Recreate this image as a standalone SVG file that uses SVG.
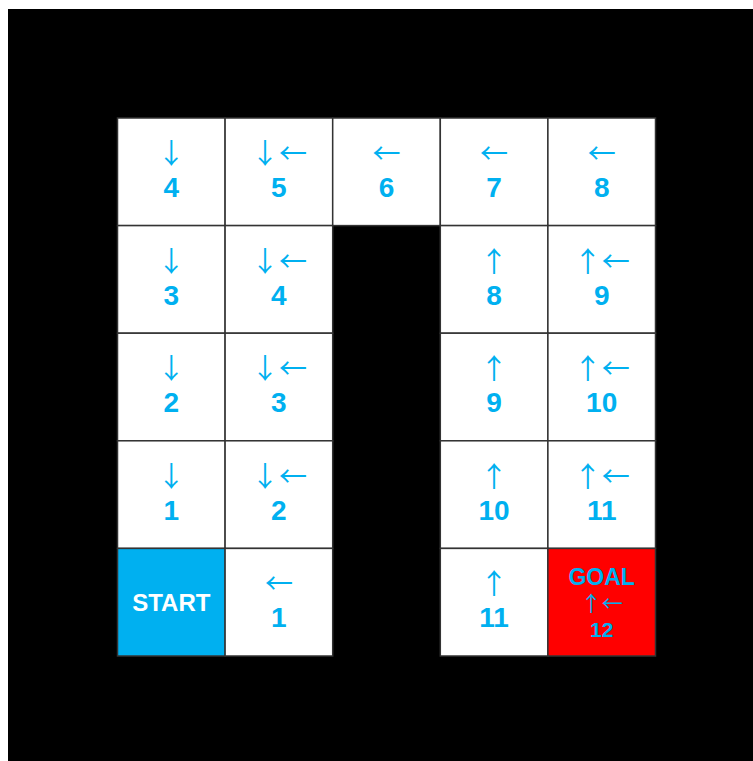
<svg xmlns="http://www.w3.org/2000/svg" width="753" height="761" viewBox="0 0 753 761">
<style>
.cell{fill:#fff;stroke:#333;stroke-width:1.5}
.arr{font-family:"Noto Sans CJK JP","Noto Sans",sans-serif;font-size:28px;fill:#00b0f0;text-anchor:middle}
.num{font-family:"Liberation Sans","Noto Sans CJK JP",sans-serif;font-weight:bold;font-size:28px;fill:#00b0f0;text-anchor:middle}
</style>
<rect x="0" y="0" width="753" height="761" fill="#fff"/>
<rect x="8" y="9" width="745" height="752" fill="#000"/>
<g id="r0c0"><rect class="cell" x="117.5" y="118" width="107.6" height="107.6"/><text class="arr" x="171.3" y="164">↓</text><text class="num" x="171.3" y="197">4</text></g>
<g id="r0c1"><rect class="cell" x="225.1" y="118" width="107.6" height="107.6"/><text class="arr" x="278.9" y="164">↓←</text><text class="num" x="278.9" y="197">5</text></g>
<g id="r0c2"><rect class="cell" x="332.7" y="118" width="107.6" height="107.6"/><text class="arr" x="386.5" y="164">←</text><text class="num" x="386.5" y="197">6</text></g>
<g id="r0c3"><rect class="cell" x="440.3" y="118" width="107.6" height="107.6"/><text class="arr" x="494.1" y="164">←</text><text class="num" x="494.1" y="197">7</text></g>
<g id="r0c4"><rect class="cell" x="547.9" y="118" width="107.6" height="107.6"/><text class="arr" x="601.7" y="164">←</text><text class="num" x="601.7" y="197">8</text></g>

<g id="r1c0"><rect class="cell" x="117.5" y="225.6" width="107.6" height="107.6"/><text class="arr" x="171.3" y="271.6">↓</text><text class="num" x="171.3" y="304.6">3</text></g>
<g id="r1c1"><rect class="cell" x="225.1" y="225.6" width="107.6" height="107.6"/><text class="arr" x="278.9" y="271.6">↓←</text><text class="num" x="278.9" y="304.6">4</text></g>
<g id="r1c3"><rect class="cell" x="440.3" y="225.6" width="107.6" height="107.6"/><text class="arr" x="494.1" y="271.6">↑</text><text class="num" x="494.1" y="304.6">8</text></g>
<g id="r1c4"><rect class="cell" x="547.9" y="225.6" width="107.6" height="107.6"/><text class="arr" x="601.7" y="271.6">↑←</text><text class="num" x="601.7" y="304.6">9</text></g>

<g id="r2c0"><rect class="cell" x="117.5" y="333.2" width="107.6" height="107.6"/><text class="arr" x="171.3" y="379.2">↓</text><text class="num" x="171.3" y="412.2">2</text></g>
<g id="r2c1"><rect class="cell" x="225.1" y="333.2" width="107.6" height="107.6"/><text class="arr" x="278.9" y="379.2">↓←</text><text class="num" x="278.9" y="412.2">3</text></g>
<g id="r2c3"><rect class="cell" x="440.3" y="333.2" width="107.6" height="107.6"/><text class="arr" x="494.1" y="379.2">↑</text><text class="num" x="494.1" y="412.2">9</text></g>
<g id="r2c4"><rect class="cell" x="547.9" y="333.2" width="107.6" height="107.6"/><text class="arr" x="601.7" y="379.2">↑←</text><text class="num" x="601.7" y="412.2">10</text></g>

<g id="r3c0"><rect class="cell" x="117.5" y="440.8" width="107.6" height="107.6"/><text class="arr" x="171.3" y="486.8">↓</text><text class="num" x="171.3" y="519.8">1</text></g>
<g id="r3c1"><rect class="cell" x="225.1" y="440.8" width="107.6" height="107.6"/><text class="arr" x="278.9" y="486.8">↓←</text><text class="num" x="278.9" y="519.8">2</text></g>
<g id="r3c3"><rect class="cell" x="440.3" y="440.8" width="107.6" height="107.6"/><text class="arr" x="494.1" y="486.8">↑</text><text class="num" x="494.1" y="519.8">10</text></g>
<g id="r3c4"><rect class="cell" x="547.9" y="440.8" width="107.6" height="107.6"/><text class="arr" x="601.7" y="486.8">↑←</text><text class="num" x="601.7" y="519.8">11</text></g>

<g id="start"><rect class="cell" x="117.5" y="548.4" width="107.6" height="107.6" style="fill:#00b0f0"/><text class="num" x="171.3" y="611" style="fill:#fff;font-size:24px">START</text></g>
<g id="r4c1"><rect class="cell" x="225.1" y="548.4" width="107.6" height="107.6"/><text class="arr" x="278.9" y="594.4">←</text><text class="num" x="278.9" y="627.4">1</text></g>
<g id="r4c3"><rect class="cell" x="440.3" y="548.4" width="107.6" height="107.6"/><text class="arr" x="494.1" y="594.4">↑</text><text class="num" x="494.1" y="627.4">11</text></g>
<g id="goal"><rect class="cell" x="547.9" y="548.4" width="107.6" height="107.6" style="fill:#ff0000"/><text class="num" x="601.7" y="585" style="font-size:23px">GOAL</text><text class="arr" x="601.7" y="611" style="font-size:21px">↑←</text><text class="num" x="601.7" y="637" style="font-size:21px">12</text></g>
</svg>
